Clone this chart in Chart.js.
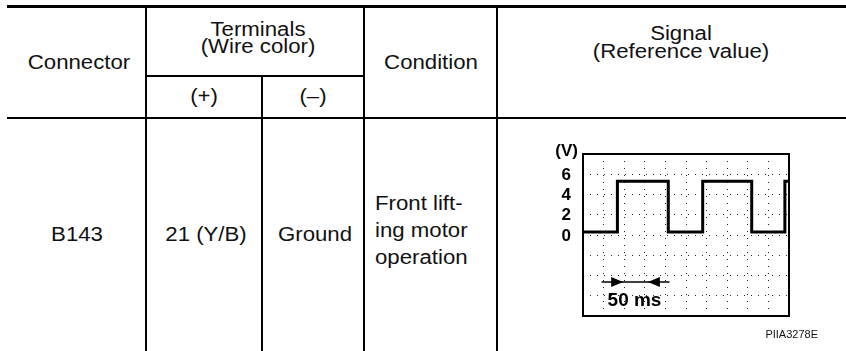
<!DOCTYPE html>
<html>
<head>
<meta charset="utf-8">
<script src="https://cdn.jsdelivr.net/npm/chart.js@4.4.1/dist/chart.umd.min.js"></script>
<style>
  html, body { margin: 0; padding: 0; background: #fff; }
  #page { position: relative; width: 846px; height: 351px; overflow: hidden;
          font-family: "Liberation Sans", Arial, sans-serif; color: #111; }
  .ln { position: absolute; background: #000; }
  .t { position: absolute; font-size: 20px; line-height: 16px; white-space: nowrap; text-align: center;
       transform: translate(-50%, -50%) scaleX(1.11); }
  .t2 { line-height: 17.5px; }
  .l { position: absolute; font-size: 20px; line-height: 27px; white-space: nowrap;
       transform: scaleX(1.11); transform-origin: left center; }
  #scope { position: absolute; left: 540px; top: 130px; }
  #code { position: absolute; right: 28px; top: 327px; font-size: 11px; line-height: 14px; }
</style>
</head>
<body>
<div id="page">
  <!-- table rules -->
  <div class="ln" style="left:7px;top:5px;width:839px;height:3px"></div>
  <div class="ln" style="left:146px;top:75px;width:218px;height:2px"></div>
  <div class="ln" style="left:7px;top:117px;width:839px;height:2px"></div>
  <div class="ln" style="left:145px;top:8px;width:1.5px;height:343px"></div>
  <div class="ln" style="left:261px;top:76px;width:1.5px;height:275px"></div>
  <div class="ln" style="left:363px;top:8px;width:1.5px;height:343px"></div>
  <div class="ln" style="left:496px;top:8px;width:1.5px;height:343px"></div>

  <!-- header -->
  <div class="t" style="left:79px;top:62px">Connector</div>
  <div class="t t2" style="left:258px;top:37.5px">Terminals<br>(Wire color)</div>
  <div class="t" style="left:204px;top:96px">(+)</div>
  <div class="t" style="left:313px;top:96px">(–)</div>
  <div class="t" style="left:431px;top:62px">Condition</div>
  <div class="t t2" style="left:681px;top:42px">Signal<br>(Reference value)</div>

  <!-- body row -->
  <div class="t" style="left:77px;top:234px">B143</div>
  <div class="t" style="left:206px;top:234px">21 (Y/B)</div>
  <div class="t" style="left:315px;top:234px">Ground</div>
  <div class="l" style="left:375px;top:190px">Front lift-<br>ing motor<br>operation</div>

  <canvas id="scope" width="260" height="200"></canvas>
  <div id="code">PIIA3278E</div>
</div>

<script>
// Oscilloscope trace: time in grid divisions, voltage in V
const timeDiv = [0, 1.67, 4.14, 5.81, 8.19, 9.8, 10];
const voltage = [0.3, 5.3, 0.3, 5.3, 0.3, 5.3, 5.3];
const voltTicks = [0, 2, 4, 6];
// 50 ms scale bar (divisions) and its label position
const barRange = [0.9, 4.2];
const barTips = [1.95, 3.15];
const barLevel = -4.65;
const barLabel = '50 ms';

const tracePoints = timeDiv.map((t, i) => ({ x: t, y: voltage[i] }));

// Draw the frame, volt labels and the time scale bar
const scopeDecor = {
    id: 'scopeDecor',
    afterDraw(chart) {
        const { ctx, chartArea: a, scales: { x, y } } = chart;
        ctx.save();
        ctx.strokeStyle = '#000';
        ctx.lineWidth = 2;
        ctx.strokeRect(a.left, a.top, a.right - a.left, a.bottom - a.top);

        ctx.fillStyle = '#000';
        ctx.font = 'bold 17px "Liberation Sans", Arial, sans-serif';
        ctx.textAlign = 'right';
        ctx.textBaseline = 'middle';
        voltTicks.forEach(v => ctx.fillText(String(v), a.left - 12, y.getPixelForValue(v) + 1));
        ctx.fillText('(V)', a.left - 5, y.getPixelForValue(8.3));

        // scale bar
        const yy = y.getPixelForValue(barLevel);
        ctx.lineWidth = 1.5;
        ctx.beginPath();
        ctx.moveTo(x.getPixelForValue(barRange[0]), yy);
        ctx.lineTo(x.getPixelForValue(barRange[1]), yy);
        ctx.stroke();
        const t1 = x.getPixelForValue(barTips[0]);
        const t2 = x.getPixelForValue(barTips[1]);
        ctx.beginPath();
        ctx.moveTo(t1, yy); ctx.lineTo(t1 - 12, yy - 5); ctx.lineTo(t1 - 12, yy + 5); ctx.closePath();
        ctx.moveTo(t2, yy); ctx.lineTo(t2 + 12, yy - 5); ctx.lineTo(t2 + 12, yy + 5); ctx.closePath();
        ctx.fill();

        ctx.font = 'bold 19px "Liberation Sans", Arial, sans-serif';
        ctx.textAlign = 'center';
        ctx.fillText(barLabel, x.getPixelForValue(2.5), y.getPixelForValue(-6.5));
        ctx.restore();
    }
};

const scopeChart = new Chart(document.getElementById('scope'), {
    type: 'line',
    data: {
        datasets: [{
            data: tracePoints,
            borderColor: '#000',
            borderWidth: 3,
            pointRadius: 0,
            stepped: 'before',
            fill: false
        }]
    },
    options: {
        responsive: false,
        animation: false,
        events: [],
        layout: { padding: { left: 43, top: 24, right: 11, bottom: 14 } },
        plugins: { legend: { display: false }, tooltip: { enabled: false } },
        scales: {
            x: {
                type: 'linear', min: 0, max: 10,
                ticks: { display: false, stepSize: 1 },
                grid: { color: '#222', lineWidth: 1, drawTicks: false },
                border: { display: false, dash: [1, 6] }
            },
            y: {
                min: -8, max: 8,
                ticks: { display: false, stepSize: 2 },
                grid: { color: '#222', lineWidth: 1, drawTicks: false },
                border: { display: false, dash: [1, 6] }
            }
        }
    },
    plugins: [scopeDecor]
});
</script>
</body>
</html>
